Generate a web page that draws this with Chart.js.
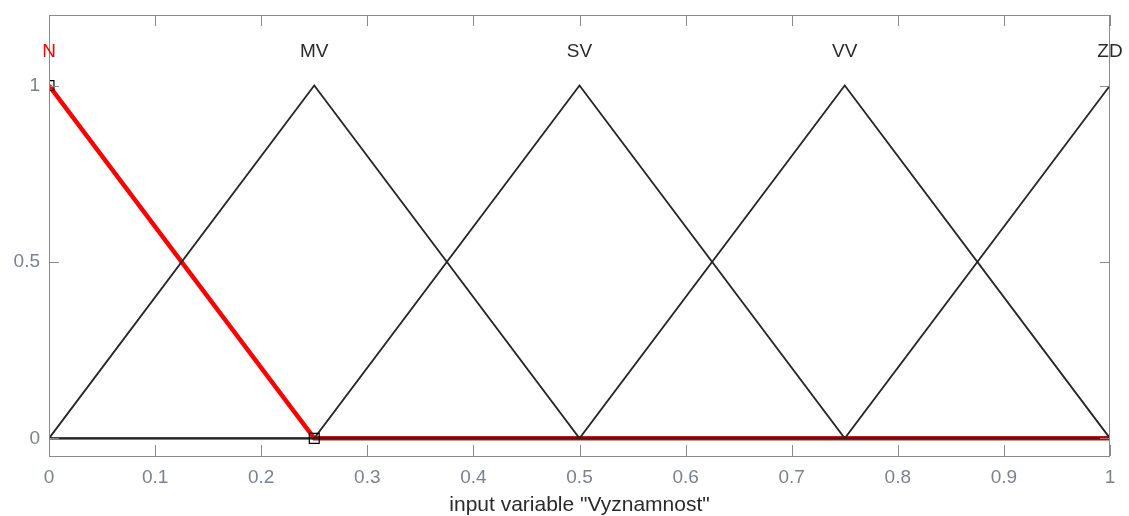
<!DOCTYPE html>
<html>
<head>
<meta charset="utf-8">
<script src="https://cdn.jsdelivr.net/npm/chart.js@4"></script>
<style>
  html, body { margin: 0; padding: 0; background: #fff; }
  #wrap { width: 1129px; height: 516px; }
</style>
</head>
<body>
<div id="wrap"><canvas id="chart" width="1129" height="516"></canvas></div>
<script>
// Membership functions of input variable "Vyznamnost"
const mfNames  = ['N', 'MV', 'SV', 'VV', 'ZD'];
const mfPeaks  = [0, 0.25, 0.5, 0.75, 1];
const mfX = [
  [0, 0.25, 1],
  [0, 0.25, 0.5, 1],
  [0, 0.25, 0.5, 0.75, 1],
  [0, 0.5, 0.75, 1],
  [0, 0.75, 1]
];
const mfY = [
  [1, 0, 0],
  [0, 1, 0, 0],
  [0, 0, 1, 0, 0],
  [0, 0, 1, 0],
  [0, 0, 1]
];
const selectedMf = 0;           // N is highlighted in red
const handleX = [0, 0.25];
const handleY = [1, 0];
const xTicks = [0, 0.1, 0.2, 0.3, 0.4, 0.5, 0.6, 0.7, 0.8, 0.9, 1];
const yTicks = [0, 0.5, 1];
const xTitle = 'input variable "Vyznamnost"';

const FONT = '"Liberation Sans", Arial, sans-serif';
const TICK_COLOR = '#7a8290';

const pts = (xs, ys) => xs.map((x, i) => ({ x, y: ys[i] }));

const datasets = [];
// selected MF underneath, thick red
datasets.push({
  data: pts(mfX[selectedMf], mfY[selectedMf]), showLine: true,
  borderColor: '#ff0000', borderWidth: 4.5, pointRadius: 0, order: 3
});
mfX.forEach((xs, i) => {
  if (i === selectedMf) return;
  datasets.push({
    data: pts(xs, mfY[i]), showLine: true,
    borderColor: '#262626', borderWidth: 1.8, pointRadius: 0, order: 2
  });
});
// selection handles
datasets.push({
  data: pts(handleX, handleY), showLine: false,
  pointStyle: 'rect', pointRadius: 7, pointBorderWidth: 1.2,
  pointBorderColor: '#000', pointBackgroundColor: 'rgba(0,0,0,0)', order: 1
});

// frame, inner ticks and MF labels
const framePlugin = {
  id: 'frame',
  afterDatasetsDraw(chart) {
    const { ctx, chartArea: a, scales: { x, y } } = chart;
    ctx.save();
    ctx.strokeStyle = '#8a8a8a';
    ctx.lineWidth = 1;
    ctx.strokeRect(a.left + 0.5, a.top + 0.5, a.right - a.left - 1, a.bottom - a.top);
    ctx.beginPath();
    xTicks.forEach(v => {
      const px = Math.round(x.getPixelForValue(v)) + 0.5;
      ctx.moveTo(px, a.bottom); ctx.lineTo(px, a.bottom - 11);
      ctx.moveTo(px, a.top);    ctx.lineTo(px, a.top + 11);
    });
    yTicks.forEach(v => {
      const py = Math.round(y.getPixelForValue(v)) + 0.5;
      ctx.moveTo(a.left, py);  ctx.lineTo(a.left + 10, py);
      ctx.moveTo(a.right, py); ctx.lineTo(a.right - 10, py);
    });
    ctx.stroke();

    ctx.font = '19px ' + FONT;
    ctx.textAlign = 'center';
    ctx.textBaseline = 'middle';
    mfNames.forEach((name, i) => {
      ctx.fillStyle = i === selectedMf ? '#ff0000' : '#2a2a2a';
      ctx.fillText(name, x.getPixelForValue(mfPeaks[i]), 52);
    });
    ctx.restore();
  }
};

new Chart(document.getElementById('chart'), {
  type: 'scatter',
  data: { datasets },
  plugins: [framePlugin],
  options: {
    responsive: false,
    animation: false,
    layout: { padding: { left: 0, right: 19, top: 15, bottom: 0 } },
    plugins: { legend: { display: false }, tooltip: { enabled: false } },
    elements: { line: { tension: 0 } },
    scales: {
      x: {
        type: 'linear', min: 0, max: 1,
        afterBuildTicks: s => { s.ticks = xTicks.map(v => ({ value: v })); },
        afterFit: s => { s.height = 60; s.paddingLeft = 0; s.paddingRight = 0; },
        grid: { display: false, drawTicks: false },
        border: { display: false },
        ticks: {
          padding: 10, maxRotation: 0, color: TICK_COLOR,
          font: { family: FONT, size: 19 },
          callback: v => String(Math.round(v * 10) / 10)
        },
        title: {
          display: true, text: xTitle, color: '#2a2a2a',
          font: { family: FONT, size: 21, lineHeight: 1 }, padding: { top: 4, bottom: 0 }
        }
      },
      y: {
        type: 'linear', min: -0.05, max: 1.2,
        afterBuildTicks: s => { s.ticks = yTicks.map(v => ({ value: v })); },
        afterFit: s => { s.width = 49; s.paddingTop = 0; s.paddingBottom = 0; },
        grid: { display: false, drawTicks: false },
        border: { display: false },
        ticks: {
          padding: 9, color: TICK_COLOR,
          font: { family: FONT, size: 19 },
          callback: v => String(v)
        }
      }
    }
  }
});
</script>
</body>
</html>
